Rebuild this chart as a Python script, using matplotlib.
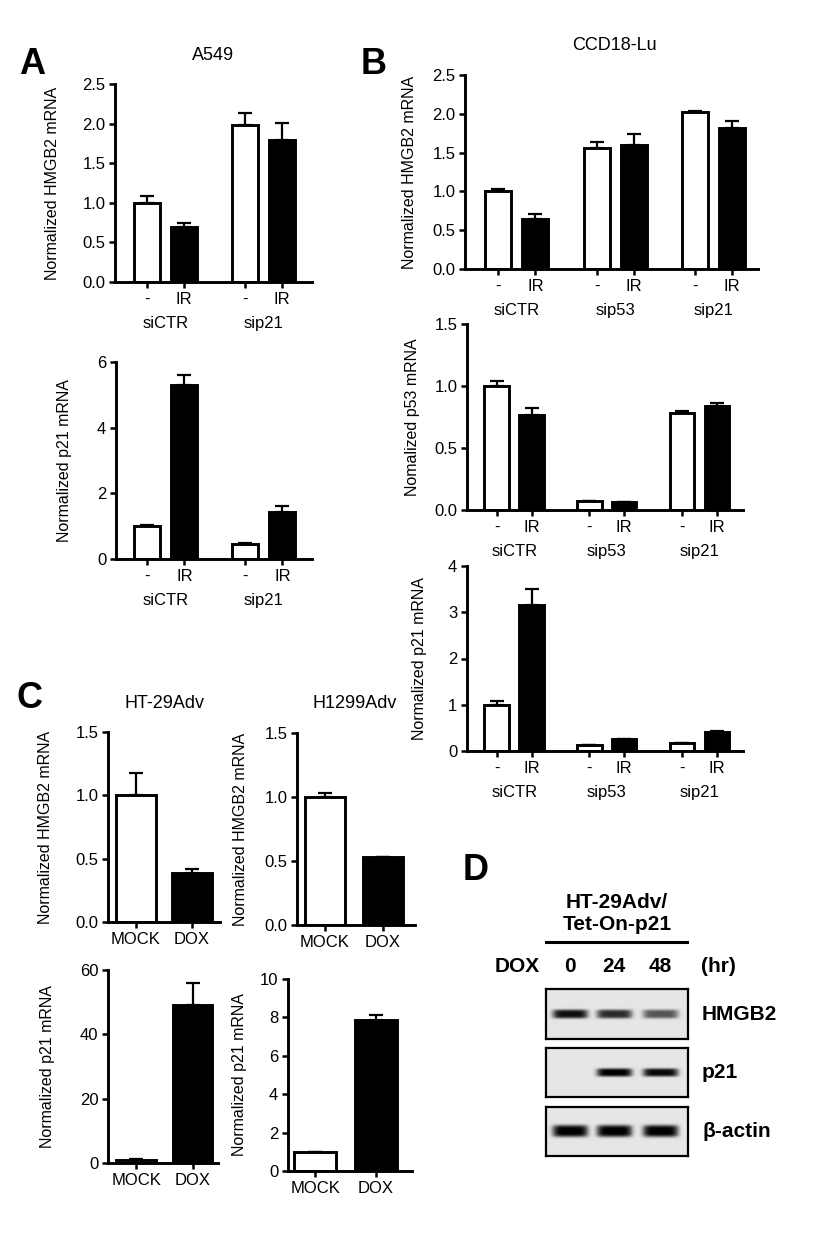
import numpy as np
import matplotlib
matplotlib.use("Agg")
import matplotlib.pyplot as plt
from matplotlib.ticker import FormatStrFormatter

plt.rcParams['font.family'] = ['Liberation Sans', 'DejaVu Sans']

W, H = 824, 1234

# ---- data ----
treat = ['-', 'IR']
a_groups = ['siCTR', 'sip21']
a_hmgb2 = [1.00, 0.69, 1.98, 1.79]
a_hmgb2_err = [0.08, 0.06, 0.15, 0.22]
a_p21 = [1.00, 5.30, 0.45, 1.42]
a_p21_err = [0.03, 0.30, 0.03, 0.20]

b_groups = ['siCTR', 'sip53', 'sip21']
b_hmgb2 = [1.00, 0.64, 1.56, 1.60, 2.02, 1.82]
b_hmgb2_err = [0.03, 0.07, 0.08, 0.14, 0.01, 0.09]
b_p53 = [1.00, 0.77, 0.07, 0.065, 0.78, 0.84]
b_p53_err = [0.04, 0.05, 0.0, 0.0, 0.02, 0.02]
b_p21 = [1.00, 3.15, 0.12, 0.26, 0.17, 0.42]
b_p21_err = [0.08, 0.35, 0.01, 0.01, 0.01, 0.01]

c_conds = ['MOCK', 'DOX']
c_ht_hmgb2 = [1.00, 0.39]
c_ht_hmgb2_err = [0.18, 0.03]
c_h1_hmgb2 = [1.00, 0.53]
c_h1_hmgb2_err = [0.03, 0.005]
c_ht_p21 = [1.0, 49.0]
c_ht_p21_err = [0.3, 7.0]
c_h1_p21 = [1.0, 7.85]
c_h1_p21_err = [0.0, 0.25]

d_times = ['0', '24', '48']
d_proteins = ['HMGB2', 'p21', 'β-actin']
d_intensity = [[0.92, 0.80, 0.62], [0.0, 1.0, 0.95], [1.0, 1.0, 1.0]]
d_thick = [0.18, 0.17, 0.24]

LW = 2.1
FS = 11.5


def px_axes(fig, left, top, right, bottom):
    return fig.add_axes([left / W, 1 - bottom / H, (right - left) / W, (bottom - top) / H])


def bar_panel(fig, box, vals, errs, xlabels, groups, ylim, yticks, fmt, ylabel, label_x, xlim):
    left, top, right, bottom = box
    ax = px_axes(fig, *box)
    n_per = len(xlabels)
    n = len(vals)
    if groups:
        pos = np.array([(i // n_per) * 2.65 + (i % n_per) for i in range(n)])
    else:
        pos = np.arange(n)
    colors = ['white' if i % 2 == 0 else 'black' for i in range(n)]
    ax.errorbar(pos, vals, yerr=[np.zeros(n), errs], fmt='none', ecolor='black',
                elinewidth=1.6, capsize=5, capthick=1.6, zorder=1)
    ax.bar(pos, vals, width=0.7, color=colors, edgecolor='black', linewidth=LW, zorder=2)
    ax.set_xlim(*xlim)
    ax.set_ylim(*ylim)
    ax.set_yticks(yticks)
    ax.yaxis.set_major_formatter(FormatStrFormatter(fmt))
    ax.set_xticks(pos)
    ax.set_xticklabels([xlabels[i % n_per] for i in range(n)])
    for s in ['top', 'right']:
        ax.spines[s].set_visible(False)
    for s in ['left', 'bottom']:
        ax.spines[s].set_linewidth(LW)
    ax.spines['left'].set_bounds(ylim[0], yticks[-1])
    ax.tick_params(axis='both', direction='out', length=4, width=1.8, labelsize=12, pad=3)
    ax.set_ylabel(ylabel, fontsize=FS)
    ax.yaxis.set_label_coords((label_x - left) / (right - left), 0.5)
    if groups:
        for g, name in enumerate(groups):
            xc = g * 2.65 + (n_per - 1) / 2
            ax.annotate(name, xy=(xc, 0), xycoords=('data', 'axes fraction'),
                        xytext=(0, -30), textcoords='offset points',
                        ha='center', va='center', fontsize=12)
    ax.patch.set_alpha(0)
    return ax


fig = plt.figure(figsize=(W / 100, H / 100), dpi=100)

# ---- A ----
fig.text(32 / W, 1 - 64 / H, 'A', fontsize=26, fontweight='bold', ha='center', va='center')
fig.text(213 / W, 1 - 55 / H, 'A549', fontsize=13, ha='center', va='center')
bar_panel(fig, (115, 84, 312, 282), a_hmgb2, a_hmgb2_err, treat, a_groups,
          (0, 2.5), [0, 0.5, 1.0, 1.5, 2.0, 2.5], '%.1f', 'Normalized HMGB2 mRNA', 60,
          (-0.85, 4.45))
bar_panel(fig, (116, 362, 312, 559), a_p21, a_p21_err, treat, a_groups,
          (0, 6), [0, 2, 4, 6], '%d', 'Normalized p21 mRNA', 72, (-0.85, 4.45))

# ---- B ----
fig.text(374 / W, 1 - 65 / H, 'B', fontsize=26, fontweight='bold', ha='center', va='center')
fig.text(614 / W, 1 - 45 / H, 'CCD18-Lu', fontsize=13, ha='center', va='center')
bar_panel(fig, (465, 75, 758, 269), b_hmgb2, b_hmgb2_err, treat, b_groups,
          (0, 2.5), [0, 0.5, 1.0, 1.5, 2.0, 2.5], '%.1f', 'Normalized HMGB2 mRNA', 417,
          (-0.9, 7.0))
bar_panel(fig, (467, 324, 743, 510), b_p53, b_p53_err, treat, b_groups,
          (0, 1.5), [0, 0.5, 1.0, 1.5], '%.1f', 'Nomalized p53 mRNA', 420, (-0.85, 7.05))
bar_panel(fig, (467, 566, 743, 751), b_p21, b_p21_err, treat, b_groups,
          (0, 4), [0, 1, 2, 3, 4], '%d', 'Normalized p21 mRNA', 427, (-0.85, 7.05))

# ---- C ----
fig.text(29 / W, 1 - 699 / H, 'C', fontsize=26, fontweight='bold', ha='center', va='center')
fig.text(164 / W, 1 - 703 / H, 'HT-29Adv', fontsize=13, ha='center', va='center')
fig.text(355 / W, 1 - 703 / H, 'H1299Adv', fontsize=13, ha='center', va='center')
bar_panel(fig, (108, 732, 220, 922), c_ht_hmgb2, c_ht_hmgb2_err, c_conds, None,
          (0, 1.5), [0, 0.5, 1.0, 1.5], '%.1f', 'Normalized HMGB2 mRNA', 53, (-0.5, 1.5))
bar_panel(fig, (297, 733, 415, 925), c_h1_hmgb2, c_h1_hmgb2_err, c_conds, None,
          (0, 1.5), [0, 0.5, 1.0, 1.5], '%.1f', 'Normalized HMGB2 mRNA', 248, (-0.48, 1.55))
bar_panel(fig, (108, 970, 218, 1163), c_ht_p21, c_ht_p21_err, c_conds, None,
          (0, 60), [0, 20, 40, 60], '%d', 'Normalized p21 mRNA', 55, (-0.5, 1.45))
bar_panel(fig, (288, 979, 412, 1171), c_h1_p21, c_h1_p21_err, c_conds, None,
          (0, 10), [0, 2, 4, 6, 8, 10], '%d', 'Normalized p21 mRNA', 247, (-0.45, 1.6))

# ---- D (western blot) ----
bold = dict(fontsize=15, fontweight='bold', va='center')
fig.text(476 / W, 1 - 871 / H, 'D', fontsize=26, fontweight='bold', ha='center', va='center')
fig.text(617 / W, 1 - 903 / H, 'HT-29Adv/', ha='center', **bold)
fig.text(617 / W, 1 - 924 / H, 'Tet-On-p21', ha='center', **bold)
fig.add_artist(plt.Line2D([546 / W, 687 / W], [1 - 942 / H, 1 - 942 / H], color='black', lw=2.2))
fig.text(517 / W, 1 - 966 / H, 'DOX', ha='center', **bold)
lane_x = [570, 614, 660]
for t, lx in zip(d_times, lane_x):
    fig.text(lx / W, 1 - 966 / H, t, ha='center', **bold)
fig.text(718 / W, 1 - 966 / H, '(hr)', ha='center', **bold)

blot_boxes = [(989, 1039), (1048, 1097), (1107, 1156)]
xx = np.linspace(0, 3, 300)
yy = np.linspace(0, 1, 100)
X, Y = np.meshgrid(xx, yy)
for prot, inten, th, (bt, bb) in zip(d_proteins, d_intensity, d_thick, blot_boxes):
    ax = px_axes(fig, 546, bt, 688, bb)
    img = np.zeros_like(X)
    for i, v in enumerate(inten):
        xc = (lane_x[i] - 546) / (688 - 546) * 3
        prof_x = np.exp(-((X - xc) / 0.37) ** 6)
        prof_y = np.exp(-((Y - 0.5) / (th / 2)) ** 4)
        img = np.maximum(img, v * prof_x * prof_y)
    gray = 0.90 - 0.92 * img
    ax.imshow(np.clip(gray, 0, 1), cmap='gray', vmin=0, vmax=1, extent=(0, 3, 0, 1),
              aspect='auto', interpolation='bilinear')
    ax.set_xticks([])
    ax.set_yticks([])
    for s in ax.spines.values():
        s.set_linewidth(1.6)
    fig.text(702 / W, 1 - (bt + bb) / 2 / H, prot, ha='left', **bold)

fig.savefig('out.png', dpi=100)
